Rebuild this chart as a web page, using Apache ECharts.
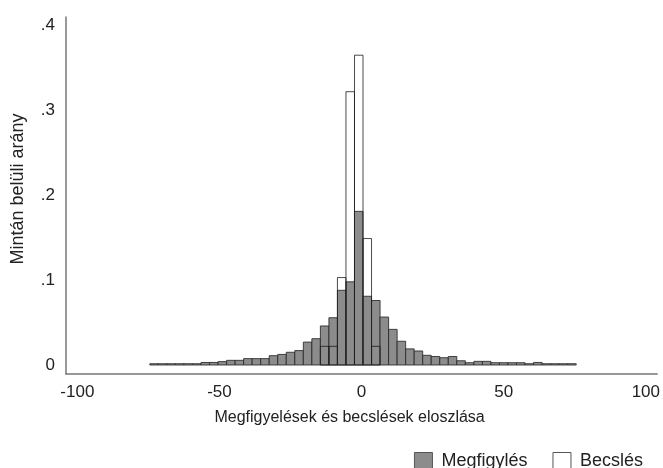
<!DOCTYPE html>
<html>
<head>
<meta charset="utf-8">
<script src="https://cdn.jsdelivr.net/npm/echarts@6/dist/echarts.min.js"></script>
<style>
  html, body { margin: 0; padding: 0; background: #fff; }
  #charts { width: 663px; height: 468px; }
</style>
</head>
<body>
<div id="charts"></div>
<script>
// histogram bins: width 3, first edge at -74.5
var binStart = -74.5;
var binWidth = 3;

// Megfigylés (observed) share per bin
var observed = [
    0.0015, 0.0015, 0.0015, 0.0015, 0.0015, 0.0015, 0.003, 0.003, 0.004, 0.0055,
    0.0055, 0.0075, 0.0075, 0.0075, 0.011, 0.0125, 0.015, 0.017, 0.027, 0.031,
    0.046, 0.0557, 0.088, 0.098, 0.181, 0.081, 0.076, 0.0565, 0.042, 0.028,
    0.019, 0.0165, 0.0114, 0.010, 0.0086, 0.010, 0.005, 0.0027, 0.0043, 0.0043,
    0.0027, 0.0027, 0.0027, 0.0027, 0.0015, 0.003, 0.0015, 0.0015, 0.0015, 0.0015
];

// Becslés (estimated) share per bin
var estimated = [
    0, 0, 0, 0, 0, 0, 0, 0, 0, 0,
    0, 0, 0, 0, 0, 0, 0, 0, 0, 0,
    0.022, 0.022, 0.103, 0.322, 0.365, 0.149, 0.022, 0, 0, 0,
    0, 0, 0, 0, 0, 0, 0, 0, 0, 0,
    0, 0, 0, 0, 0, 0, 0, 0, 0, 0
];

var xTicks = [-100, -50, 0, 50, 100];
var yTicks = [0, 0.1, 0.2, 0.3, 0.4];

var font = 'Liberation Sans, Arial, sans-serif';

function toBins(values) {
    var out = [];
    for (var i = 0; i < values.length; i++) {
        if (values[i] > 0) {
            out.push([binStart + i * binWidth, binStart + (i + 1) * binWidth, values[i]]);
        }
    }
    return out;
}

function barRenderer(fill, stroke) {
    return function (params, api) {
        var p0 = api.coord([api.value(0), 0]);
        var p1 = api.coord([api.value(1), api.value(2)]);
        return {
            type: 'rect',
            shape: { x: p0[0], y: p1[1], width: p1[0] - p0[0], height: p0[1] - p1[1] },
            style: { fill: fill, stroke: stroke, lineWidth: 1 }
        };
    };
}

var myChart = echarts.init(document.getElementById('charts'));

var option = {
    animation: false,
    backgroundColor: '#fff',
    textStyle: { fontFamily: font },
    grid: { left: 66, right: 1, top: 17, bottom: 94 },
    legend: {
        right: 15,
        top: 447,
        itemWidth: 18,
        itemHeight: 17,
        itemGap: 25,
        textStyle: { fontSize: 18, color: '#222', fontFamily: font, padding: [0, 0, 0, 4] },
        data: [
            { name: 'Megfigylés', icon: 'rect', itemStyle: { color: '#8c8c8c', borderColor: '#555', borderWidth: 1 } },
            { name: 'Becslés', icon: 'rect', itemStyle: { color: '#fff', borderColor: '#555', borderWidth: 1 } }
        ]
    },
    xAxis: {
        type: 'value',
        min: -104,
        max: 104,
        name: 'Megfigyelések és becslések eloszlása',
        nameLocation: 'middle',
        nameGap: 36,
        nameTextStyle: { fontSize: 16, color: '#222', padding: [0, 24, 0, 0] },
        splitLine: { show: false },
        axisLine: { onZero: false, lineStyle: { color: '#777', width: 1.5 } },
        axisTick: { show: false },
        axisLabel: {
            customValues: xTicks,
            fontSize: 17,
            color: '#222',
            margin: 10
        }
    },
    yAxis: {
        type: 'value',
        min: -0.0106,
        max: 0.41,
        name: 'Mintán belüli arány',
        nameLocation: 'middle',
        nameGap: 39,
        nameTextStyle: { fontSize: 18, color: '#222', padding: [0, 0, 0, 13] },
        splitLine: { show: false },
        axisLine: { show: true, onZero: false, lineStyle: { color: '#777', width: 1.5 } },
        axisTick: { show: false },
        axisLabel: {
            customValues: yTicks,
            fontSize: 17,
            color: '#222',
            margin: 11,
            formatter: function (v) {
                return v === 0 ? '0' : ('' + Math.round(v * 10) / 10).replace(/^0/, '');
            }
        }
    },
    series: [
        {
            name: 'Megfigylés',
            type: 'custom',
            renderItem: barRenderer('#8c8c8c', 'rgba(40,40,40,0.85)'),
            encode: { x: [0, 1], y: 2 },
            data: toBins(observed),
            z: 2
        },
        {
            name: 'Becslés',
            type: 'custom',
            renderItem: barRenderer('rgba(255,255,255,0)', 'rgba(30,30,30,0.8)'),
            encode: { x: [0, 1], y: 2 },
            data: toBins(estimated),
            z: 3
        }
    ]
};
myChart.setOption(option);
</script>
</body>
</html>
